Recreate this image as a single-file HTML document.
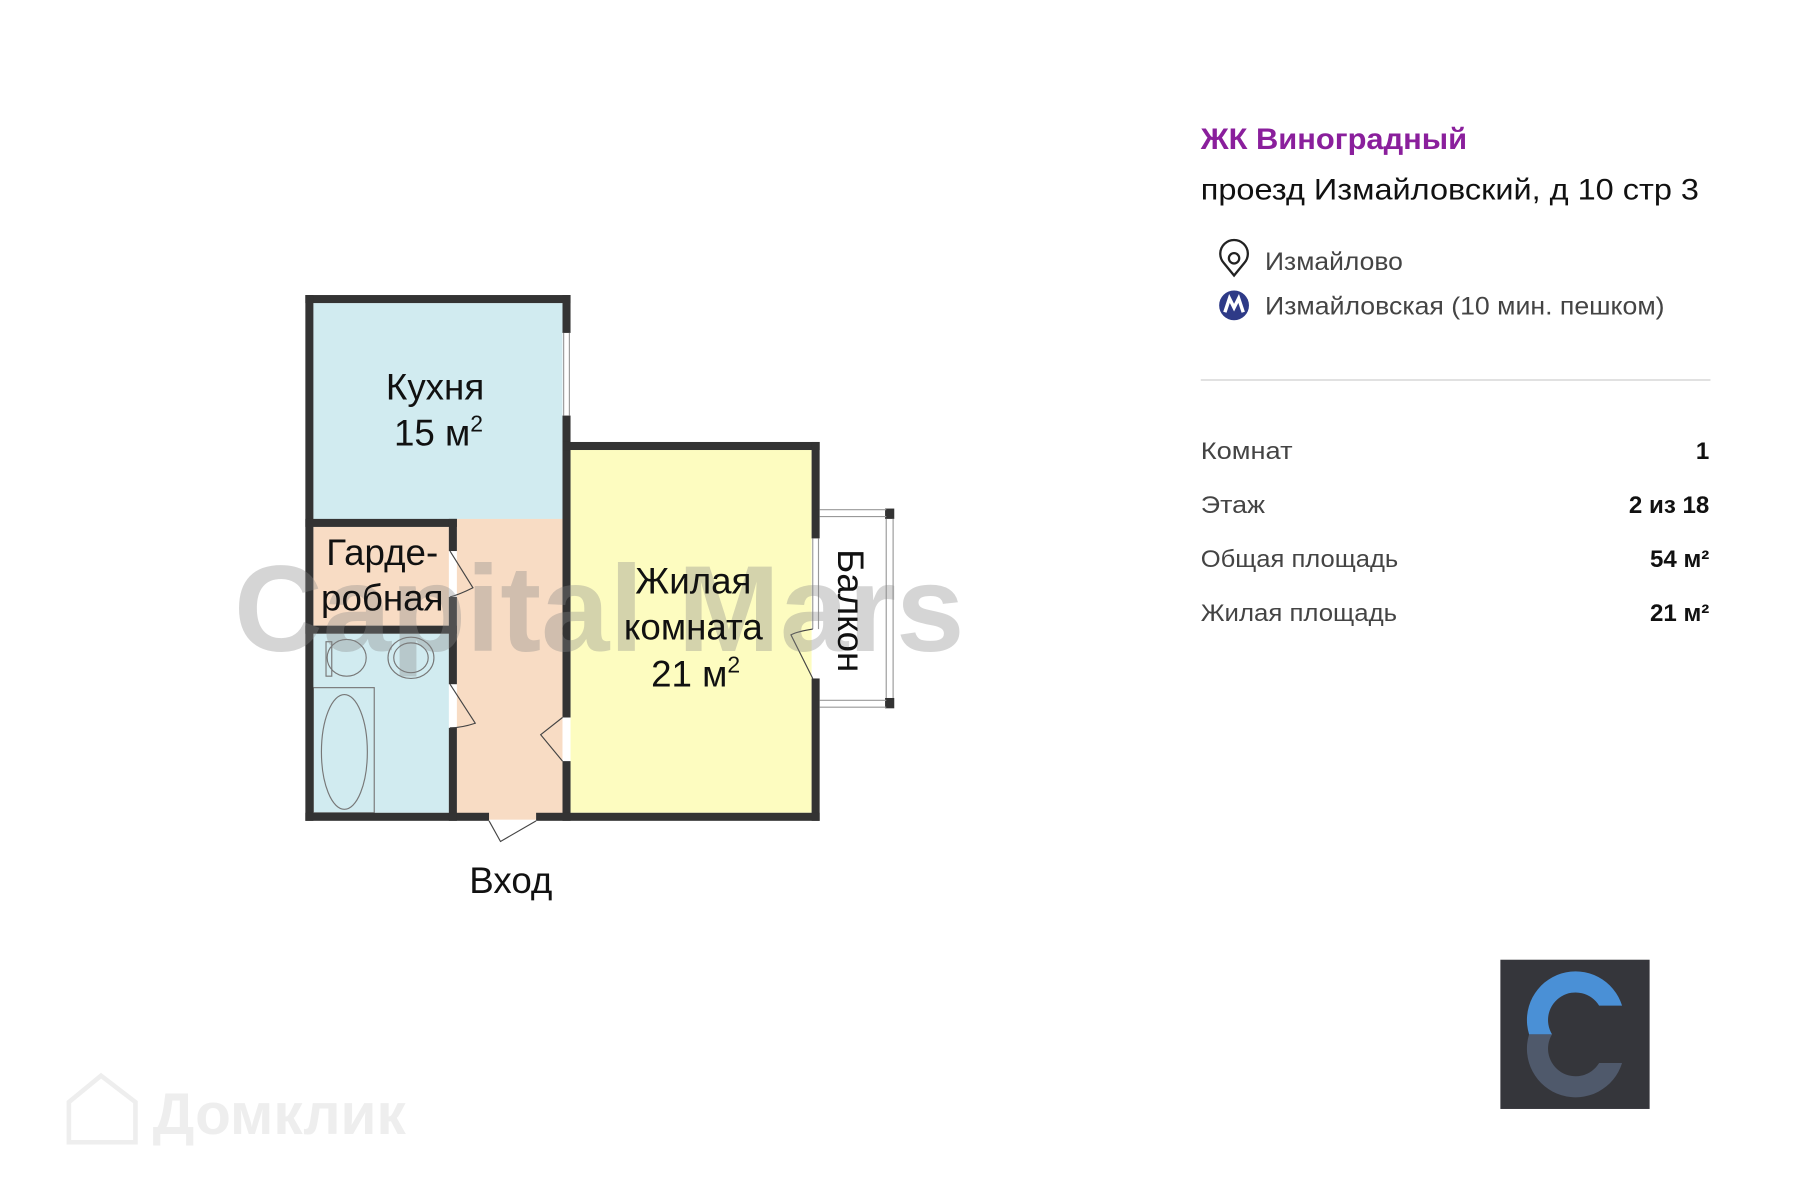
<!DOCTYPE html>
<html><head><meta charset="utf-8"><style>
html,body{margin:0;padding:0;background:#fff;}
svg{display:block;}
</style></head><body>
<svg width="1800" height="1200" viewBox="0 0 1568 1045.3" preserveAspectRatio="none" xmlns="http://www.w3.org/2000/svg" font-family="Liberation Sans, sans-serif">
<rect width="1568" height="1046" fill="#fff"/>
<!-- fills -->
<rect x="273" y="264" width="217" height="190" fill="#d1ebf0"/>
<rect x="398" y="452" width="92" height="258" fill="#f8dcc4"/>
<rect x="398" y="708" width="69" height="6" fill="#f8dcc4"/>
<rect x="273" y="459" width="118" height="86" fill="#f8dcc4"/>
<rect x="273" y="552" width="118" height="156" fill="#d1ebf0"/>
<rect x="497" y="392" width="210" height="316" fill="#fdfcc0"/>
<!-- bathroom fixtures -->
<g fill="none" stroke="#777" stroke-width="1">
<rect x="273" y="599" width="53" height="109"/>
<ellipse cx="300" cy="655" rx="20" ry="50"/>
<ellipse cx="302" cy="573" rx="17" ry="16"/>
<rect x="284" y="559" width="5" height="30"/>
<ellipse cx="358" cy="573" rx="20" ry="18"/>
<ellipse cx="358" cy="573" rx="15" ry="13"/>
</g>
<!-- walls -->
<g fill="#333">
<rect x="266" y="257" width="231" height="7"/>
<rect x="266" y="257" width="7" height="458"/>
<rect x="490" y="257" width="7" height="33"/>
<rect x="490" y="362" width="7" height="263"/>
<rect x="490" y="663" width="7" height="52"/>
<rect x="490" y="385" width="224" height="7"/>
<rect x="707" y="385" width="7" height="84"/>
<rect x="707" y="591" width="7" height="124"/>
<rect x="266" y="708" width="160" height="7"/>
<rect x="467" y="708" width="247" height="7"/>
<rect x="266" y="452" width="132" height="7"/>
<rect x="266" y="545" width="132" height="7"/>
<rect x="391" y="452" width="7" height="28"/>
<rect x="391" y="520" width="7" height="76"/>
<rect x="391" y="634" width="7" height="81"/>
<rect x="771" y="443" width="8" height="9"/>
<rect x="771" y="608" width="8" height="9"/>
</g>
<!-- windows, balcony -->
<g fill="none" stroke="#999" stroke-width="1">
<line x1="491" y1="290" x2="491" y2="362"/><line x1="496" y1="290" x2="496" y2="362"/>
<line x1="708" y1="469" x2="708" y2="548"/><line x1="713" y1="469" x2="713" y2="548"/>
<line x1="714" y1="444" x2="772" y2="444"/><line x1="714" y1="450" x2="772" y2="450"/>
<line x1="714" y1="610" x2="772" y2="610"/><line x1="714" y1="616" x2="772" y2="616"/>
<line x1="772" y1="452" x2="772" y2="608"/><line x1="778" y1="452" x2="778" y2="608"/>
</g>
<!-- door swings -->
<g fill="none" stroke="#444" stroke-width="1">
<path d="M392 480 L412 512 Q400 518 392 520"/>
<path d="M392 596 L414 630 Q402 634 392 634"/>
<path d="M490 625 L471 640 L490 663"/>
<path d="M708 548 Q695 550 689 553 L708 591"/>
<path d="M426 715 L436 733 L467 715"/>
</g>
<!-- watermark -->
<text x="522" y="567" text-anchor="middle" font-size="107" font-weight="bold" fill="#888" fill-opacity="0.35">Capital Mars</text>
<!-- room labels -->
<g font-size="32" fill="#111" text-anchor="middle">
<text x="379" y="348">Кухня</text>
<text x="382" y="388">15 м<tspan font-size="20" dy="-12">2</tspan></text>
<text x="333" y="492">Гарде-</text>
<text x="333" y="532">робная</text>
<text x="604" y="517">Жилая</text>
<text x="604" y="557">комната</text>
<text x="606" y="598">21 м<tspan font-size="20" dy="-12">2</tspan></text>
<text x="445" y="778">Вход</text>
<text transform="translate(730,532) rotate(90)">Балкон</text>
</g>
<!-- right panel -->
<text x="1046" y="130" font-size="26" font-weight="bold" fill="#8a1f9c" textLength="232" lengthAdjust="spacingAndGlyphs">ЖК Виноградный</text>
<text x="1046" y="174" font-size="26" fill="#111" textLength="434" lengthAdjust="spacingAndGlyphs">проезд Измайловский, д 10 стр 3</text>
<path d="M1075 240 L1066 229 A12 12 0 1 1 1084 229 Z" fill="none" stroke="#222" stroke-width="2"/>
<circle cx="1075" cy="225" r="4.5" fill="none" stroke="#222" stroke-width="2"/>
<text x="1102" y="235" font-size="22" fill="#444" textLength="120" lengthAdjust="spacingAndGlyphs">Измайлово</text>
<circle cx="1075" cy="266" r="13" fill="#2e3a87"/>
<path d="M1067 272 L1071 260 L1075 268 L1079 260 L1083 272" fill="none" stroke="#fff" stroke-width="3"/>
<text x="1102" y="274" font-size="22" fill="#444" textLength="348" lengthAdjust="spacingAndGlyphs">Измайловская (10 мин. пешком)</text>
<line x1="1046" y1="331" x2="1490" y2="331" stroke="#ddd" stroke-width="1.5"/>
<g font-size="21" fill="#444">
<text x="1046" y="400" textLength="80" lengthAdjust="spacingAndGlyphs">Комнат</text>
<text x="1046" y="447" textLength="56" lengthAdjust="spacingAndGlyphs">Этаж</text>
<text x="1046" y="494" textLength="172" lengthAdjust="spacingAndGlyphs">Общая площадь</text>
<text x="1046" y="541" textLength="171" lengthAdjust="spacingAndGlyphs">Жилая площадь</text>
</g>
<g font-size="21" fill="#111" font-weight="bold" text-anchor="end">
<text x="1489" y="400">1</text>
<text x="1489" y="447">2 из 18</text>
<text x="1489" y="494">54 м²</text>
<text x="1489" y="541">21 м²</text>
</g>
<!-- logo -->
<rect x="1307" y="836" width="130" height="130" fill="#35363b"/>
<path d="M1413 876 A41 41 0 0 0 1332 901 L1352 901 A21 21 0 0 1 1393 876 Z" fill="#4a90d6"/>
<path d="M1332 901 A41 41 0 0 0 1413 926 L1393 926 A21 21 0 0 1 1352 901 Z" fill="#4f596b"/>
<!-- domclick -->
<g fill="none" stroke="#eee" stroke-width="4">
<path d="M60 995 L60 960 L88 937 L118 960 L118 995 Z"/>
</g>
<text x="133" y="988" font-size="51" font-weight="bold" fill="#eee">Домклик</text>
</svg>
</body></html>
